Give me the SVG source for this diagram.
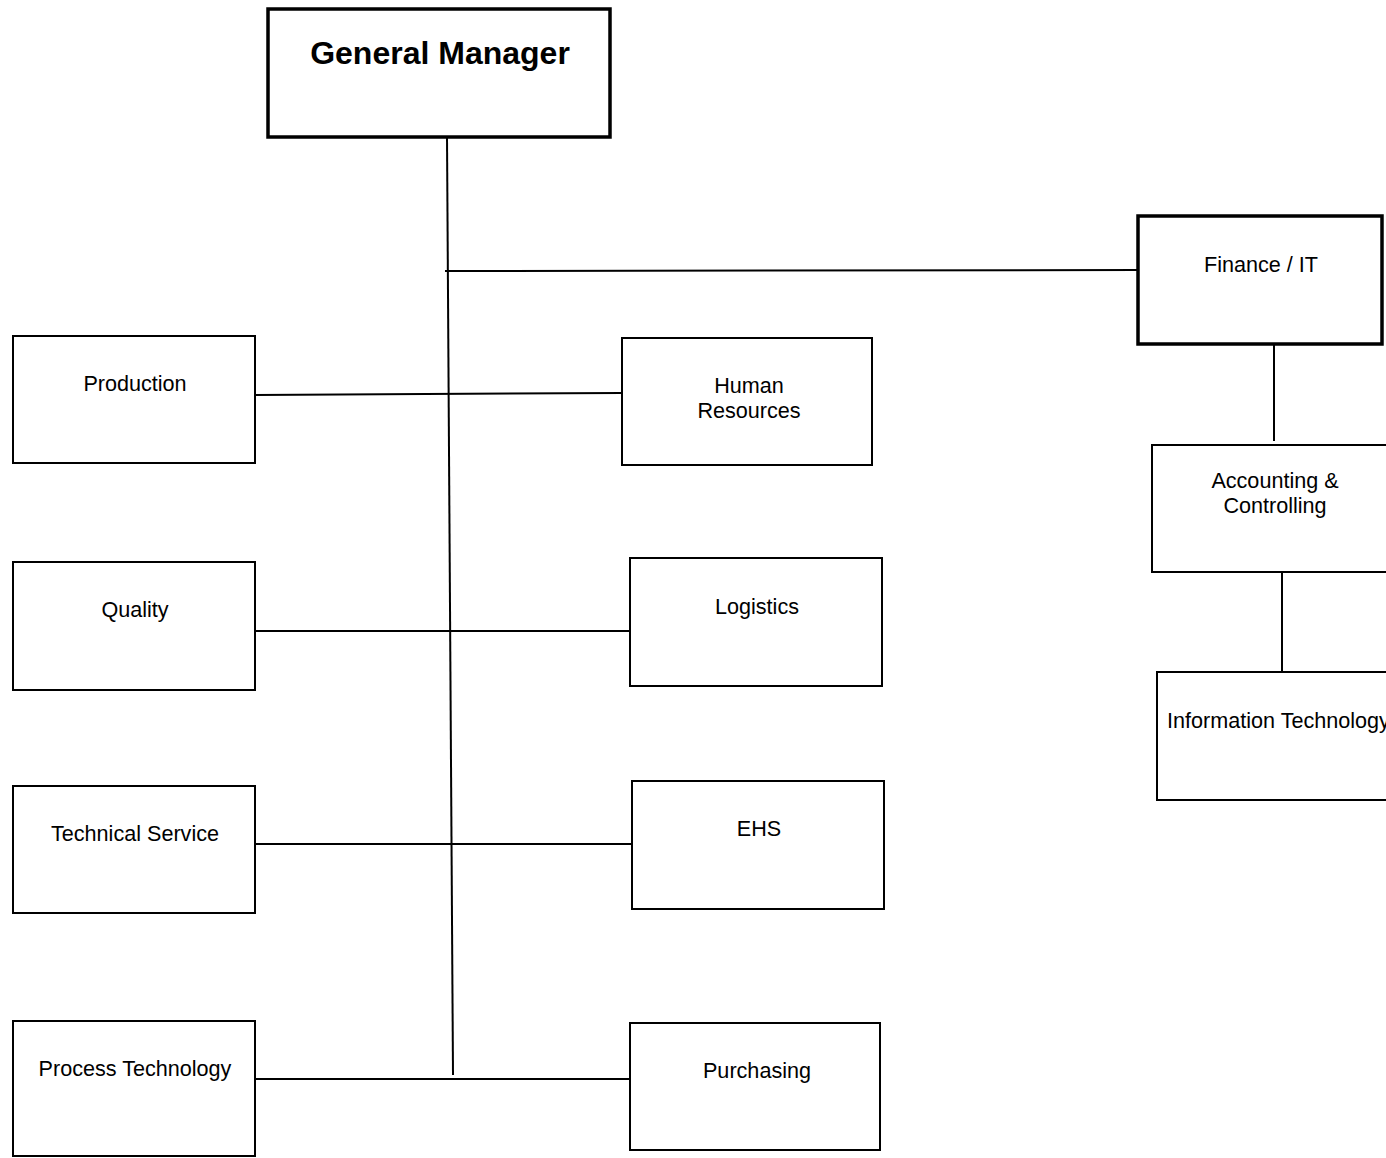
<svg xmlns="http://www.w3.org/2000/svg" width="1386" height="1158" viewBox="0 0 1386 1158">
<style>
.box{fill:#fff;stroke:#000;stroke-width:2}
.thick{fill:#fff;stroke:#000;stroke-width:3.5}
.ln{stroke:#000;stroke-width:2;fill:none}
.t{font-family:"Liberation Sans",Arial,sans-serif;font-size:21.6px;fill:#000;text-anchor:middle}
.tb{font-family:"Liberation Sans",Arial,sans-serif;font-size:32px;font-weight:bold;fill:#000;text-anchor:middle}
</style>
<rect width="1386" height="1158" fill="#fff"/>
<g id="connectors">
<line class="ln" x1="447" y1="137" x2="453" y2="1075"/>
<line class="ln" x1="445" y1="271" x2="1138" y2="270"/>
<line class="ln" x1="1274" y1="344" x2="1274" y2="441"/>
<line class="ln" x1="1282" y1="572" x2="1282" y2="672"/>
<line class="ln" x1="255" y1="395" x2="622" y2="393"/>
<line class="ln" x1="255" y1="631" x2="630" y2="631"/>
<line class="ln" x1="255" y1="844" x2="632" y2="844"/>
<line class="ln" x1="255" y1="1079" x2="630" y2="1079"/>
</g>
<g id="gm">
<rect class="thick" x="268" y="9" width="342" height="128"/>
<text class="tb" x="440" y="64">General Manager</text>
</g>
<g id="finance">
<rect class="thick" x="1138" y="216" width="244" height="128"/>
<text class="t" x="1261" y="272">Finance / IT</text>
</g>
<g id="accounting">
<rect class="box" x="1152" y="445" width="240" height="127"/>
<text class="t" x="1275" y="488">Accounting &amp;</text>
<text class="t" x="1275" y="513">Controlling</text>
</g>
<g id="it">
<rect class="box" x="1157" y="672" width="235" height="128"/>
<text class="t" x="1167" y="728" style="text-anchor:start">Information Technology</text>
</g>
<g id="production">
<rect class="box" x="13" y="336" width="242" height="127"/>
<text class="t" x="135" y="391">Production</text>
</g>
<g id="hr">
<rect class="box" x="622" y="338" width="250" height="127"/>
<text class="t" x="749" y="393">Human</text>
<text class="t" x="749" y="418">Resources</text>
</g>
<g id="quality">
<rect class="box" x="13" y="562" width="242" height="128"/>
<text class="t" x="135" y="617">Quality</text>
</g>
<g id="logistics">
<rect class="box" x="630" y="558" width="252" height="128"/>
<text class="t" x="757" y="614">Logistics</text>
</g>
<g id="techservice">
<rect class="box" x="13" y="786" width="242" height="127"/>
<text class="t" x="135" y="841">Technical Service</text>
</g>
<g id="ehs">
<rect class="box" x="632" y="781" width="252" height="128"/>
<text class="t" x="759" y="836">EHS</text>
</g>
<g id="processtech">
<rect class="box" x="13" y="1021" width="242" height="135"/>
<text class="t" x="135" y="1076">Process Technology</text>
</g>
<g id="purchasing">
<rect class="box" x="630" y="1023" width="250" height="127"/>
<text class="t" x="757" y="1078">Purchasing</text>
</g>
</svg>
